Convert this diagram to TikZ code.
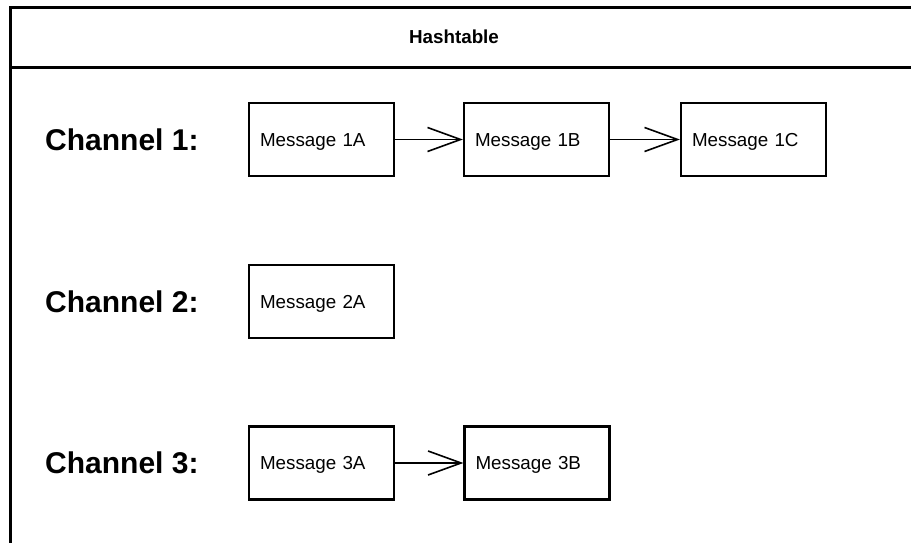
\documentclass[tikz,border=0pt]{standalone}
\usepackage{fontspec}
\setmainfont{Liberation Sans}
\usetikzlibrary{arrows.meta}
\begin{document}
\begin{tikzpicture}[x=1pt,y=-1pt,
  msg/.style={draw, line width=2.2pt, minimum width=145pt, minimum height=73pt,
    text width=123pt, inner xsep=11pt, align=left, text height=13.5pt, text depth=0pt,
    font=\fontsize{18.8}{20}\selectfont},
  chan/.style={anchor=west, inner sep=0pt, font=\fontsize{30}{32}\selectfont\bfseries},
  link/.style={line width=1.6pt, -{Straight Barb[length=33pt,width=24pt,line width=1.6pt]}}]
\useasboundingbox (0,0) rectangle (911,543);
\fill[white] (0,0) rectangle (911,543);
% frame
\draw[line width=2.5pt] (9,7.5) -- (911,7.5);
\draw[line width=2.2pt] (10.5,7) -- (10.5,543);
\draw[line width=2.2pt] (10,67.5) -- (911,67.5);
\node[font=\fontsize{18.8}{20}\selectfont\bfseries] (title) at (454,37) {Hashtable};
% channel labels
\node[chan] (c1) at (45,139.5) {Channel 1:};
\node[chan] (c2) at (45,301.5) {Channel 2:};
\node[chan] (c3) at (45,463) {Channel 3:};
% messages
\node[msg] (m1a) at (321.5,139.5) {Message 1A};
\node[msg] (m1b) at (536.5,139.5) {Message 1B};
\node[msg] (m1c) at (753.5,139.5) {Message 1C};
\node[msg] (m2a) at (321.5,301.5) {Message 2A};
\node[msg] (m3a) at (321.5,463) {Message 3A};
\node[msg] (m3b) at (537,463) {Message 3B};
% links
\draw[link] (m1a) -- (m1b);
\draw[link] (m1b) -- (m1c);
\draw[link] (m3a) -- (m3b);
\end{tikzpicture}
\end{document}
